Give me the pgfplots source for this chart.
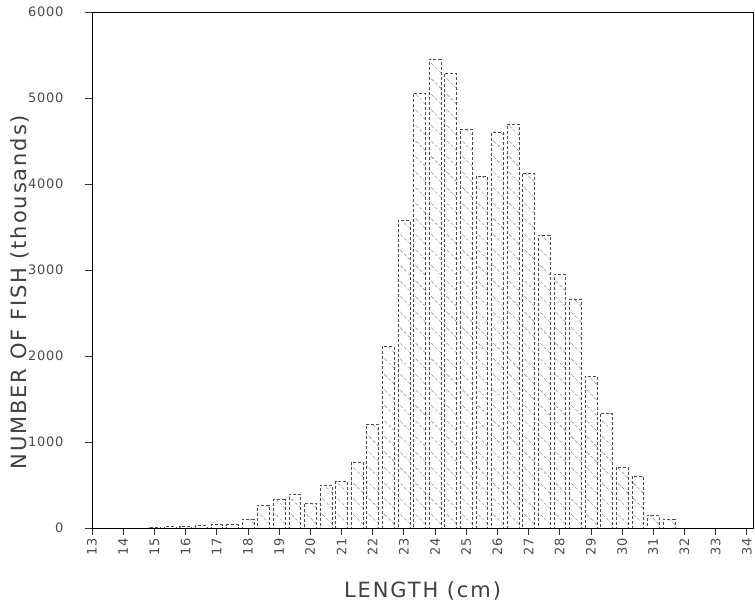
\documentclass[border=0pt]{standalone}
\usepackage{pgfplots}
\pgfplotsset{compat=1.18}
\usepackage{fontspec}
\setmainfont{DejaVu Sans}
\newfontfamily\labfont[LetterSpace=9]{DejaVu Sans}
\newfontfamily\tickfont[LetterSpace=6]{DejaVu Sans}
\usetikzlibrary{patterns.meta}
\begin{document}
\begin{tikzpicture}
\begin{axis}[name=ax,
  width=661pt, height=516pt, scale only axis,
  xmin=13, xmax=34.2, ymin=0, ymax=6000,
  xtick={13,...,34}, ytick={0,1000,...,6000},
  tick pos=left,
  tick align=outside, major tick length=7pt,
  tick style={black!80, line width=0.6pt},
  axis line style={black, line width=0.9pt},
  scaled y ticks=false,
  /pgf/number format/1000 sep={},
  /pgf/number format/assume math mode=true,
  xticklabel style={rotate=90, anchor=east, font=\tickfont\fontsize{13}{13}\selectfont, text=black!70},
  yticklabel style={font=\tickfont\fontsize{13}{13}\selectfont, text=black!70, xshift=-18pt},
  xlabel={LENGTH (cm)},
  ylabel={NUMBER OF FISH (thousands)},
  every axis x label/.style={at={(axis description cs:0.5,0)}, anchor=center, yshift=-63pt,
    font=\labfont\fontsize{21}{21}\selectfont, text=black!75},
  every axis y label/.style={at={(axis description cs:-0.1089,0.457)}, rotate=90, anchor=center,
    font=\labfont\fontsize{21}{21}\selectfont, text=black!75},
]
\addplot[ybar, bar width=0.38, bar shift=0pt, draw=black!70, densely dashed,
  pattern={Lines[angle=-45, distance=11pt, line width=0.4pt]}, pattern color=black!50]
coordinates {
(15.0,10) (15.5,15) (16.0,20) (16.5,30) (17.0,40) (17.5,40) (18.0,100)
(18.5,270) (19.0,330) (19.5,390) (20.0,290) (20.5,500) (21.0,540)
(21.5,770) (22.0,1210) (22.5,2110) (23.0,3580) (23.5,5060) (24.0,5450)
(24.5,5290) (25.0,4640) (25.5,4090) (26.0,4600) (26.5,4700) (27.0,4130)
(27.5,3410) (28.0,2950) (28.5,2660) (29.0,1770) (29.5,1340) (30.0,710)
(30.5,600) (31.0,150) (31.5,100)
};
\end{axis}
\pgfresetboundingbox
\path[use as bounding box] ([xshift=-92pt,yshift=-84pt]ax.south west) rectangle ([xshift=2pt,yshift=12pt]ax.north east);
\end{tikzpicture}
\end{document}
